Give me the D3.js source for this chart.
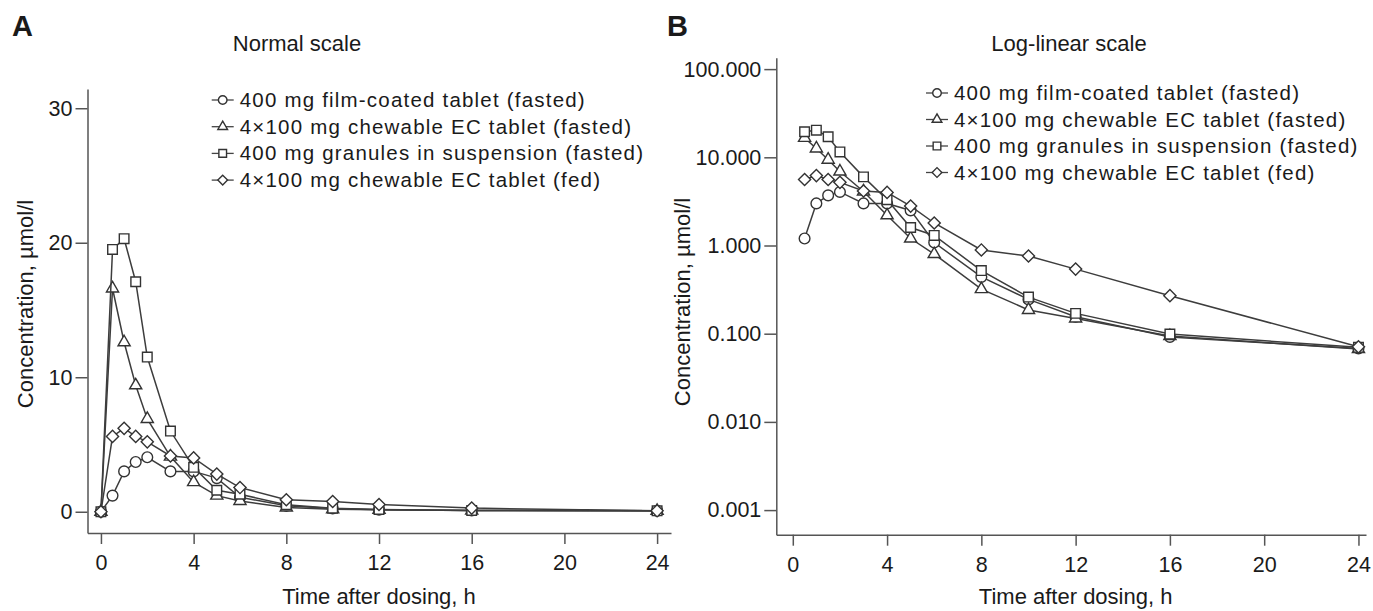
<!DOCTYPE html>
<html>
<head>
<meta charset="utf-8">
<script src="https://cdn.jsdelivr.net/npm/d3@7"></script>
<style>
body { margin: 0; background: #fff; }
svg text { font-family: "Liberation Sans", Arial, sans-serif; fill: #1a1a1a; }
</style>
</head>
<body>
<div id="chart"></div>
<script>
// sampling times (h)
const times = [0, 0.5, 1, 1.5, 2, 3, 4, 5, 6, 8, 10, 12, 16, 24];

// mean concentrations, µmol/l
const filmCoatedFasted = [0, 1.2, 3.0, 3.7, 4.05, 3.0, 3.0, 2.5, 1.08, 0.44, 0.245, 0.156, 0.092, 0.068];
const chewableFasted   = [0, 16.6, 12.6, 9.4, 6.9, 4.1, 2.2, 1.2, 0.8, 0.32, 0.186, 0.149, 0.094, 0.067];
const granulesFasted   = [0, 19.5, 20.3, 17.1, 11.5, 6.0, 3.3, 1.6, 1.3, 0.52, 0.26, 0.17, 0.099, 0.07];
const chewableFed      = [0, 5.6, 6.2, 5.6, 5.2, 4.15, 4.0, 2.8, 1.8, 0.89, 0.76, 0.54, 0.27, 0.071];

const seriesNames = [
    "400 mg film-coated tablet (fasted)",
    "4\u00d7100 mg chewable EC tablet (fasted)",
    "400 mg granules in suspension (fasted)",
    "4\u00d7100 mg chewable EC tablet (fed)"
];
const seriesShapes = ["circle", "triangle", "square", "diamond"];

const timeTicks = [0, 4, 8, 12, 16, 20, 24];
const linearTicks = [0, 10, 20, 30];
const logTicks = [0.001, 0.01, 0.1, 1, 10, 100];

const allSeries = [filmCoatedFasted, chewableFasted, granulesFasted, chewableFed].map(function (vals, i) {
    return {
        name: seriesNames[i],
        shape: seriesShapes[i],
        points: times.map((t, j) => ({t: t, v: vals[j]}))
    };
});

const svg = d3.select("#chart").append("svg")
    .attr("width", 1373)
    .attr("height", 611);

function symbolPath(shape, k) {
    let type = d3.symbolCircle, size = 90;
    if (shape === "triangle") { type = d3.symbolTriangle; size = 64; }
    if (shape === "square") { type = d3.symbolSquare; size = 92; }
    if (shape === "diamond") { type = d3.symbolSquare; size = 74; }
    return d3.symbol().type(type).size(size * k * k)();
}

function drawMarker(g, shape, x, y, k) {
    g.append("path")
        .attr("d", symbolPath(shape, k))
        .attr("transform", "translate(" + x + "," + y + ")" + (shape === "diamond" ? " rotate(45)" : ""))
        .attr("fill", "white")
        .attr("stroke", "#333")
        .attr("stroke-width", 1.4);
}

function drawPanel(cfg) {
    let g = svg.append("g");

    let x = d3.scaleLinear().domain(cfg.xDomain).range(cfg.xRange);
    let y = cfg.log
        ? d3.scaleLog().domain(cfg.yDomain).range(cfg.yRange)
        : d3.scaleLinear().domain(cfg.yDomain).range(cfg.yRange);

    // y title first so the tick labels can cover it
    g.append("text")
        .attr("transform", "translate(" + cfg.yTitleX + "," + cfg.yTitleY + ") rotate(-90)")
        .attr("text-anchor", "middle")
        .style("font-size", "22px")
        .text("Concentration, \u00b5mol/l");

    let xAxis = d3.axisBottom(x).tickValues(timeTicks).tickSize(11).tickSizeOuter(0).tickPadding(8);
    let gx = g.append("g")
        .attr("transform", "translate(0," + cfg.yRange[0] + ")")
        .call(xAxis);

    let yAxis = d3.axisLeft(y).tickValues(cfg.yTicks).tickSize(12).tickSizeOuter(0).tickPadding(3);
    if (cfg.log) yAxis.tickFormat(d3.format(".3f"));
    let gy = g.append("g")
        .attr("transform", "translate(" + cfg.xRange[0] + ",0)")
        .call(yAxis);

    [gx, gy].forEach(function (ax) {
        ax.selectAll("path, line").attr("stroke", "#555").attr("stroke-width", 1.5);
        ax.selectAll("text").style("font-size", "21.5px").attr("fill", "#1a1a1a");
    });
    gx.selectAll("text").attr("dy", "0.85em");
    gy.selectAll("text")
        .attr("stroke", "white").attr("stroke-width", 6)
        .attr("paint-order", "stroke").attr("stroke-linejoin", "round");

    g.append("text")
        .attr("x", (x(0) + x(24)) / 2)
        .attr("y", 604)
        .attr("text-anchor", "middle")
        .style("font-size", "22px")
        .text("Time after dosing, h");

    g.append("text")
        .attr("x", cfg.titleX)
        .attr("y", 51)
        .attr("text-anchor", "middle")
        .style("font-size", "22px")
        .text(cfg.title);

    g.append("text")
        .attr("x", cfg.letterX)
        .attr("y", 36)
        .style("font-size", "29px")
        .style("font-weight", "bold")
        .attr("fill", "#111")
        .text(cfg.letter);

    let line = d3.line().x(d => x(d.t)).y(d => y(d.v));

    allSeries.forEach(function (s) {
        let pts = cfg.log ? s.points.filter(d => d.v > 0) : s.points;
        g.append("path")
            .datum(pts)
            .attr("d", line)
            .attr("fill", "none")
            .attr("stroke", "#3d3d3d")
            .attr("stroke-width", 1.5);
        pts.forEach(function (d) {
            drawMarker(g, s.shape, x(d.t), y(d.v), 1);
        });
    });

    // legend
    allSeries.forEach(function (s, i) {
        let ly = cfg.legendY + i * cfg.legendStep;
        g.append("line")
            .attr("x1", cfg.legendX - 11).attr("x2", cfg.legendX + 11)
            .attr("y1", ly).attr("y2", ly)
            .attr("stroke", "#444").attr("stroke-width", 1.3);
        drawMarker(g, s.shape, cfg.legendX, ly, 0.8);
        g.append("text")
            .attr("x", cfg.legendX + 17)
            .attr("y", ly + 7)
            .style("font-size", "20.5px")
            .style("letter-spacing", "1.2px")
            .text(s.name);
    });
}

drawPanel({
    letter: "A", letterX: 12,
    title: "Normal scale", titleX: 297,
    log: false,
    xDomain: [-0.58, 24.6], xRange: [87.5, 671],
    yDomain: [-1.58, 31.43], yRange: [533, 89],
    yTicks: linearTicks,
    yTitleX: 33, yTitleY: 304,
    legendX: 222.7, legendY: 100, legendStep: 26.7
});

drawPanel({
    letter: "B", letterX: 667,
    title: "Log-linear scale", titleX: 1069,
    log: true,
    xDomain: [-0.70, 24.32], xRange: [776.3, 1366],
    yDomain: [0.000526, 134.7], yRange: [534.7, 57.7],
    yTicks: logTicks,
    yTitleX: 690, yTitleY: 302,
    legendX: 937, legendY: 93, legendStep: 26.5
});
</script>
</body>
</html>
